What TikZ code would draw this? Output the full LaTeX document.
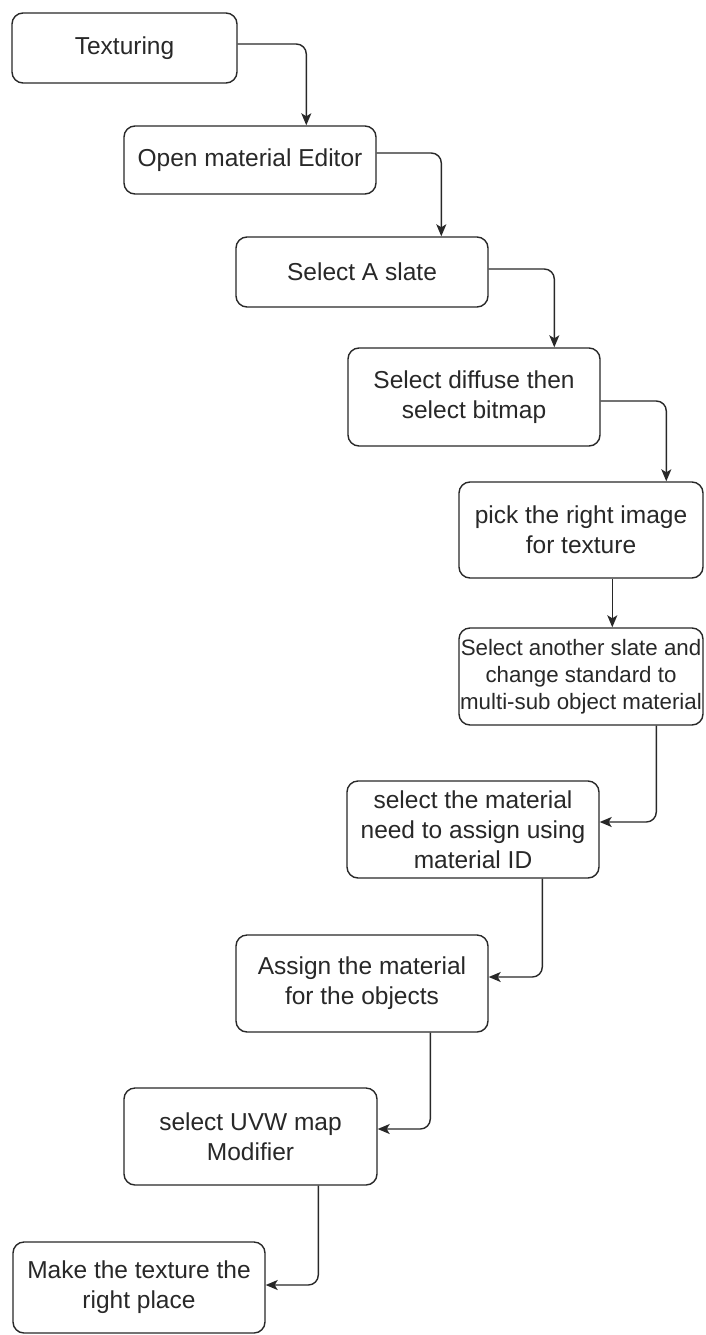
\documentclass[tikz,border=0pt]{standalone}
\usepackage{fontspec}
\setmainfont{Liberation Sans}
\usetikzlibrary{arrows.meta}
\definecolor{ink}{RGB}{40,40,40}
\begin{document}
\begin{tikzpicture}[x=1pt,y=-1pt,
  box/.style={draw=ink, line width=1.4pt, rounded corners=11pt, align=center, inner sep=0pt,
    font=\fontsize{24.5}{30}\selectfont, text=ink},
  smallbox/.style={box, font=\fontsize{22.3}{26.8}\selectfont},
  conn/.style={draw=ink, line width=1.4pt, rounded corners=10pt,
    -{Stealth[length=12pt,width=10pt,inset=3pt]}}]
\fill[white] (0,0) rectangle (705,1335);
\useasboundingbox (0,0) rectangle (705,1335);

\node[box, minimum width=225pt, minimum height=70pt] (b1) at (124.5,48) {Texturing};
\node[box, minimum width=252pt, minimum height=68pt] (b2) at (250,160) {Open material Editor};
\node[box, minimum width=252pt, minimum height=70pt] (b3) at (362,272) {Select A slate};
\node[box, minimum width=252pt, minimum height=98pt] (b4) at (474,397) {Select diffuse then\\select bitmap};
\node[box, minimum width=244pt, minimum height=96pt] (b5) at (581,530) {pick the right image\\for texture};
\node[smallbox, minimum width=244pt, minimum height=97pt] (b6) at (581,676.5) {Select another slate and\\change standard to\\multi-sub object material};
\node[box, minimum width=252pt, minimum height=97pt] (b7) at (473,829.5) {select the material\\need to assign using\\material ID};
\node[box, minimum width=252pt, minimum height=97pt] (b8) at (362,983.5) {Assign the material\\for the objects};
\node[box, minimum width=253pt, minimum height=97pt] (b9) at (250.5,1136.5) {select UVW map\\Modifier};
\node[box, minimum width=252pt, minimum height=91pt] (b10) at (139,1287.5) {Make the texture the\\right place};

\draw[conn] ([yshift=4pt]b1.east) -| ([xshift=183pt]b2.north west);
\draw[conn] ([yshift=7pt]b2.east) -| ([xshift=206pt]b3.north west);
\draw[conn] ([yshift=3pt]b3.east) -| ([xshift=207pt]b4.north west);
\draw[conn] ([yshift=-4pt]b4.east) -| ([xshift=208pt]b5.north west);
\draw[conn] ([xshift=154pt]b5.south west) -- ([xshift=154pt]b6.north west);
\draw[conn] ([xshift=198pt]b6.south west) |- ([yshift=7.5pt]b7.east);
\draw[conn] ([xshift=196pt]b7.south west) |- ([yshift=6.5pt]b8.east);
\draw[conn] ([xshift=195pt]b8.south west) |- ([yshift=7.5pt]b9.east);
\draw[conn] ([xshift=195pt]b9.south west) |- ([yshift=2.5pt]b10.east);
\end{tikzpicture}
\end{document}
